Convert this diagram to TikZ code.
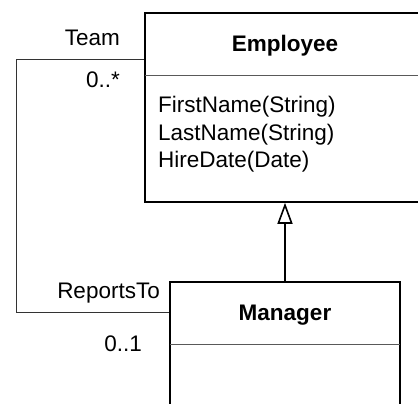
\documentclass[tikz,border=0pt]{standalone}
\usepackage{fontspec}
\setmainfont{Liberation Sans}
\usepackage{tikz}
\usetikzlibrary{shapes,arrows.meta}

\begin{document}
\begin{tikzpicture}[x=1pt,y=-1pt,
    font=\fontsize{22.5}{27}\selectfont,
    classbox/.style={draw,rectangle,line width=1.6pt,inner sep=0pt},
    namebox/.style={rectangle,inner sep=0pt,text height=16pt,text depth=0pt,font=\fontsize{22.5}{27}\selectfont\bfseries},
    divider/.style={draw=black!65,line width=0.9pt},
    assoc/.style={draw=black!80,line width=0.9pt},
    inherit/.style={line width=1.6pt,-{Triangle[open,length=21pt,width=15pt]}},
    txt/.style={inner sep=0pt}]

  \clip (0,0) rectangle (418,404);

  \node[classbox,minimum width=280,minimum height=189] at (285,107.5) (employee) {};
  \node[namebox,minimum width=280,minimum height=63,anchor=north] at (employee.north) (employee-name) {Employee};
  \draw[divider] (employee-name.south west) -- (employee-name.south east);

  \node[txt,anchor=base west] at (158,113) (employee-a1) {FirstName(String)};
  \node[txt,anchor=base west] at (158,140) (employee-a2) {LastName(String)};
  \node[txt,anchor=base west] at (158,167) (employee-a3) {HireDate(Date)};

  \node[classbox,minimum width=230,minimum height=180] at (285,372) (manager) {};
  \node[namebox,minimum width=230,minimum height=63,anchor=north] at (manager.north) (manager-name) {Manager};
  \draw[divider] (manager-name.south west) -- (manager-name.south east);

  \draw[inherit] (manager.north) -- (employee.south);

  \draw[assoc] ([yshift=-47pt]employee.north west) -- ++(-128pt,0) |- ([yshift=-31pt]manager.north west);

  \node[txt,anchor=base east] at (120,46) (team) {Team};
  \node[txt,anchor=base east] at (120,88) (team-mult) {0..*};
  \node[txt,anchor=base east] at (160,298) (reports) {ReportsTo};
  \node[txt,anchor=base east] at (142,351) (reports-mult) {0..1};

\end{tikzpicture}
\end{document}
